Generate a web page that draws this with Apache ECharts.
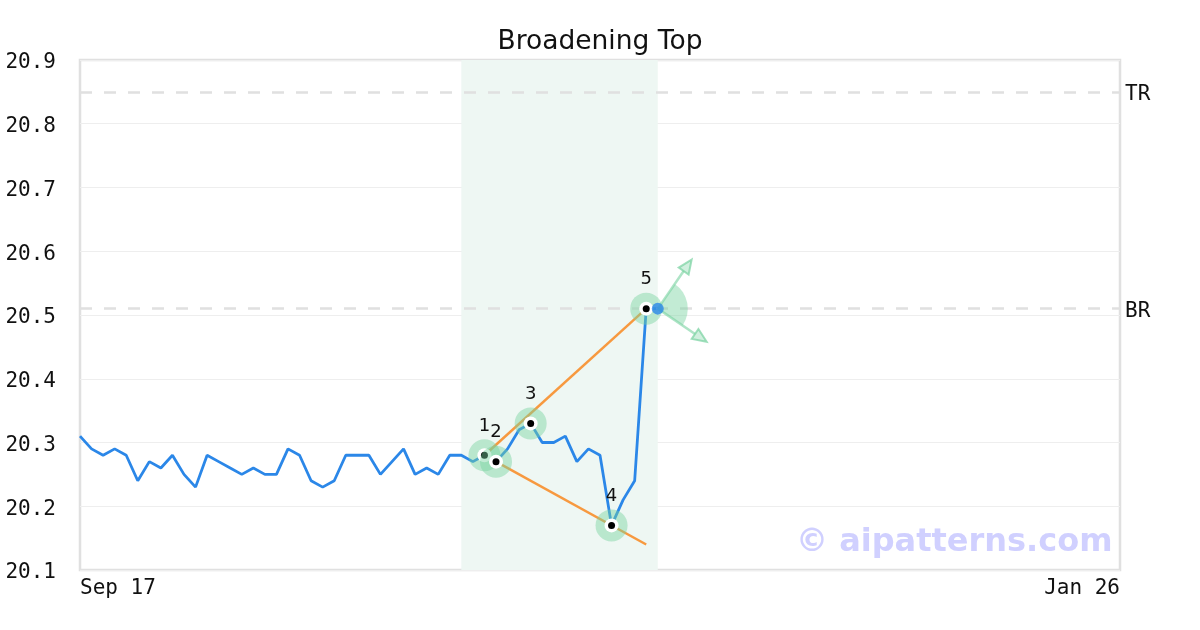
<!DOCTYPE html>
<html>
<head>
<meta charset="utf-8">
<script src="https://cdn.jsdelivr.net/npm/echarts@6/dist/echarts.min.js"></script>
<style>html,body{margin:0;padding:0;background:#fff}#c{width:1200px;height:630px}</style>
</head>
<body>
<div id="c"></div>
<script>
// X categories (trading days)
const xLabels = [
 'Sep 17','Sep 18','Sep 21','Sep 22','Sep 23','Sep 24','Sep 25','Sep 28','Sep 29','Sep 30',
 'Oct 1','Oct 2','Oct 5','Oct 6','Oct 7','Oct 8','Oct 9','Oct 12','Oct 13','Oct 14','Oct 15','Oct 16',
 'Oct 19','Oct 20','Oct 21','Oct 22','Oct 23','Oct 26','Oct 27','Oct 28','Oct 29','Oct 30',
 'Nov 2','Nov 3','Nov 4','Nov 5','Nov 6','Nov 9','Nov 10','Nov 11','Nov 12','Nov 13',
 'Nov 16','Nov 17','Nov 18','Nov 19','Nov 20','Nov 23','Nov 24','Nov 25','Nov 27','Nov 30',
 'Dec 1','Dec 2','Dec 3','Dec 4','Dec 7','Dec 8','Dec 9','Dec 10','Dec 11',
 'Dec 14','Dec 15','Dec 16','Dec 17','Dec 18','Dec 21','Dec 22','Dec 23','Dec 24',
 'Dec 28','Dec 29','Dec 30','Dec 31',
 'Jan 4','Jan 5','Jan 6','Jan 7','Jan 8','Jan 11','Jan 12','Jan 13','Jan 14','Jan 15',
 'Jan 18','Jan 19','Jan 20','Jan 21','Jan 22','Jan 25','Jan 26'
];
// Price values (one per trading day from the start)
const prices = [
 20.31,20.29,20.28,20.29,20.28,20.24,20.27,20.26,20.28,20.25,
 20.23,20.28,20.27,20.26,20.25,20.26,20.25,20.25,20.29,20.28,
 20.24,20.23,20.24,20.28,20.28,20.28,20.25,20.27,20.29,20.25,
 20.26,20.25,20.28,20.28,20.27,20.28,20.27,20.29,20.32,20.33,
 20.30,20.30,20.31,20.27,20.29,20.28,20.17,20.21,20.24,20.51,20.51
];
// Pattern pivot points: [index, value, label]
const pivots = [[35,20.28,'1'],[36,20.27,'2'],[39,20.33,'3'],[46,20.17,'4'],[49,20.51,'5']];
// Trend lines
const upperLine = [[35,20.28],[49,20.51]];
const lowerLine = [[36,20.27],[49,20.14]];
// Levels
const levels = [{name:'TR', value:20.85},{name:'BR', value:20.51}];
// Pattern highlight range (indices)
const patternRange = [33, 50];
// Breakout point and projection arrows
const breakout = [50, 20.51];
const arrowTargets = [[52.93, 20.587],[54.23, 20.458]];
const yTicks = {min:20.1, max:20.9, step:0.1};

const mono = 'DejaVu Sans Mono';
const chart = echarts.init(document.getElementById('c'), null, {renderer:'canvas'});
const lineData = prices.map((v,i)=>[i,v]);
const green = 'rgba(120,210,160,0.45)';

chart.setOption({
  animation:false,
  backgroundColor:'#fff',
  title:{text:'Broadening Top', left:'center', top:24,
    textStyle:{fontFamily:'DejaVu Sans', fontSize:26.5, fontWeight:'normal', color:'#111'}},
  grid:{left:80, right:80, top:60, bottom:60, show:true, borderColor:'#e0e0e0', borderWidth:2.5, backgroundColor:'transparent'},
  xAxis:{type:'value', min:0, max:xLabels.length-1, interval:xLabels.length-1,
    axisLine:{show:false}, axisTick:{show:false}, splitLine:{show:false},
    axisLabel:{fontFamily:mono, fontSize:21, color:'#111', margin:8,
      alignMinLabel:'left', alignMaxLabel:'right',
      formatter:v=>xLabels[Math.round(v)] || ''}},
  yAxis:{type:'value', min:yTicks.min, max:yTicks.max, interval:yTicks.step,
    axisLine:{show:false}, axisTick:{show:false},
    splitLine:{lineStyle:{color:'#eee', width:1}},
    axisLabel:{fontFamily:mono, fontSize:21, color:'#111', margin:24, verticalAlign:'top', lineHeight:6, formatter:v=>v.toFixed(1)}},
  graphic:[{type:'text', left:796, top:527, z:100,
    style:{text:'© aipatterns.com', font:'bold 32px "DejaVu Sans"', fill:'#d0d0ff'}}],
  series:[
    {type:'line', data:lineData, showSymbol:false, z:3,
      lineStyle:{color:'#2b87e8', width:2.8}, itemStyle:{color:'#2b87e8'},
      markArea:{silent:true, itemStyle:{color:'#eef7f3'},
        data:[[{xAxis:patternRange[0]},{xAxis:patternRange[1]}]]},
      markLine:{silent:true, symbol:['none','none'],
        lineStyle:{color:'#e0e0e0', width:2.5, type:[12,12]},
        label:{show:true, position:'end', distance:5, formatter:p=>p.name, verticalAlign:'top', lineHeight:5,
          fontFamily:mono, fontSize:21, color:'#111'},
        data:levels.map(l=>({name:l.name, yAxis:l.value}))}
    },
    {type:'line', data:upperLine, showSymbol:false, z:4, lineStyle:{color:'#f7993f', width:2.5}},
    {type:'line', data:lowerLine, showSymbol:false, z:4, lineStyle:{color:'#f7993f', width:2.5}},
    {type:'custom', z:5, data:[breakout], clip:false,
      renderItem:(params, api)=>{
        const c = api.coord([api.value(0), api.value(1)]);
        const pts = arrowTargets.map(t=>api.coord(t));
        const angs = pts.map(p=>Math.atan2(p[1]-c[1], p[0]-c[0]));
        const children = [{type:'sector', shape:{cx:c[0], cy:c[1], r0:0, r:30, startAngle:angs[0], endAngle:angs[1], clockwise:true},
          style:{fill:green}}];
        pts.forEach((p,k)=>{
          const a = angs[k];
          const hl = 14, hw = 6;
          const bx = p[0]-hl*Math.cos(a), by = p[1]-hl*Math.sin(a);
          children.push({type:'line', shape:{x1:c[0], y1:c[1], x2:bx, y2:by},
            style:{stroke:'rgba(120,210,160,0.6)', lineWidth:2.5}});
          children.push({type:'polygon', shape:{points:[[p[0],p[1]],
              [bx+hw*Math.sin(a), by-hw*Math.cos(a)], [bx-hw*Math.sin(a), by+hw*Math.cos(a)]]},
            style:{fill:'rgba(120,210,160,0.35)', stroke:'rgba(120,210,160,0.7)', lineWidth:2}});
        });
        return {type:'group', children};
      }},
    {type:'custom', z:6, data:pivots, clip:false,
      renderItem:(params, api)=>{
        const c = api.coord([api.value(0), api.value(1)]);
        const lbl = pivots[params.dataIndex][2];
        return {type:'group', children:[
          {type:'circle', shape:{cx:c[0], cy:c[1], r:16}, style:{fill:green}},
          {type:'circle', shape:{cx:c[0], cy:c[1], r:7}, style:{fill:'#fff'}},
          {type:'circle', shape:{cx:c[0], cy:c[1], r:3.5}, style:{fill:'#000'}},
          {type:'text', x:c[0], y:c[1]-29, style:{text:lbl, font:'18px "DejaVu Sans"', fill:'#111', align:'center', verticalAlign:'middle'}}
        ]};
      }},
    {type:'scatter', z:7, data:[breakout], symbol:'circle', symbolSize:12, itemStyle:{color:'#2b87e8'}}
  ]
});
</script>
</body>
</html>
